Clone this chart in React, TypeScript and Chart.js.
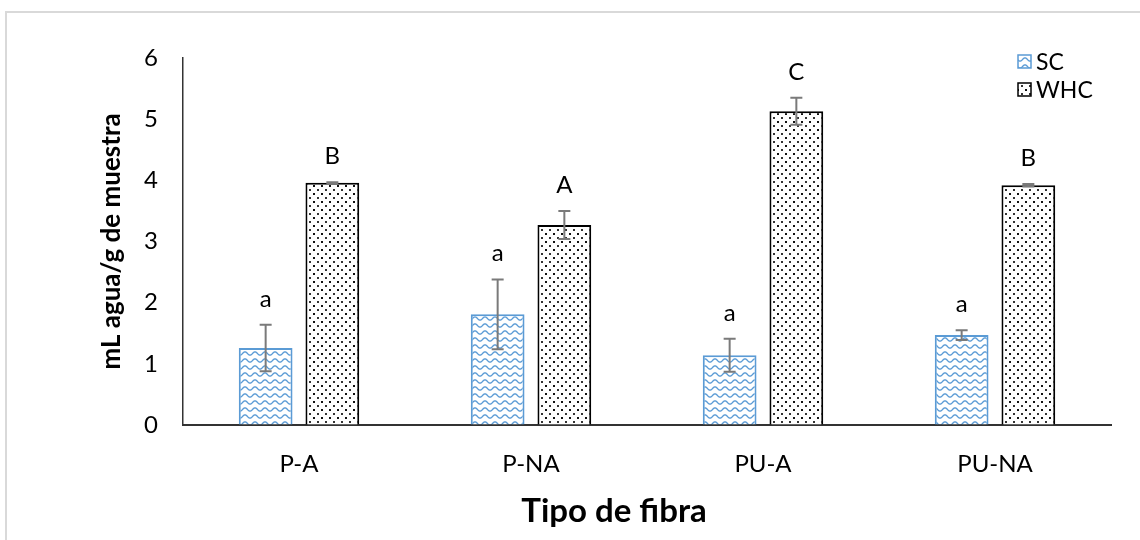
import React, { useEffect, useRef } from "react";
import { Chart, registerables } from "chart.js";

Chart.register(...registerables);

// Fibre types on the category axis
const categories = ["P-A", "P-NA", "PU-A", "PU-NA"];

// Swelling capacity (SC), mL water / g sample
const scValues = [1.26, 1.81, 1.14, 1.47];
const scErrors = [0.38, 0.57, 0.27, 0.08];
const scLetters = ["a", "a", "a", "a"];

// Water holding capacity (WHC), mL water / g sample
const whcValues = [3.96, 3.27, 5.13, 3.92];
const whcErrors = [0.01, 0.23, 0.22, 0.02];
const whcLetters = ["B", "A", "C", "B"];

const yTicks = [0, 1, 2, 3, 4, 5, 6];

const xTitle = "Tipo de fibra";
const yTitle = "mL agua/g de muestra";

const FONT = "Lato, 'Open Sans', sans-serif";
const BLUE = "#5b9bd5";

function makeWavePattern(ctx: CanvasRenderingContext2D): CanvasPattern | string {
  const w = 10;
  const h = 7;
  const c = document.createElement("canvas");
  c.width = w;
  c.height = h;
  const g = c.getContext("2d");
  if (!g) return "#ffffff";
  g.fillStyle = "#ffffff";
  g.fillRect(0, 0, w, h);
  g.strokeStyle = BLUE;
  g.lineWidth = 1.4;
  g.beginPath();
  for (let x = -1; x <= w + 1; x += 0.25) {
    const y = 3.5 + 1.6 * Math.cos((2 * Math.PI * x) / w);
    if (x === -1) g.moveTo(x, y);
    else g.lineTo(x, y);
  }
  g.stroke();
  return ctx.createPattern(c, "repeat") || "#ffffff";
}

function makeDotPattern(ctx: CanvasRenderingContext2D): CanvasPattern | string {
  const c = document.createElement("canvas");
  c.width = 8;
  c.height = 8;
  const g = c.getContext("2d");
  if (!g) return "#ffffff";
  g.fillStyle = "#ffffff";
  g.fillRect(0, 0, 8, 8);
  g.fillStyle = "#111111";
  g.fillRect(1, 1, 2, 2);
  g.fillStyle = "#333333";
  g.fillRect(5, 5, 2, 2);
  return ctx.createPattern(c, "repeat") || "#ffffff";
}

// Light grey frame around the whole chart
const framePlugin = {
  id: "frame",
  beforeDraw(chart: any) {
    const ctx = chart.ctx;
    ctx.save();
    ctx.fillStyle = "#ffffff";
    ctx.fillRect(0, 0, chart.width, chart.height);
    ctx.strokeStyle = "#d9d9d9";
    ctx.lineWidth = 2;
    ctx.strokeRect(6, 12, chart.width + 40, chart.height + 40);
    ctx.restore();
  },
};

// Error bars and significance letters above each bar
const errorPlugin = {
  id: "errorBars",
  afterDatasetsDraw(chart: any) {
    const ctx = chart.ctx;
    const yScale = chart.scales.y;
    const sets = [
      { values: scValues, errors: scErrors, letters: scLetters },
      { values: whcValues, errors: whcErrors, letters: whcLetters },
    ];
    ctx.save();
    sets.forEach((s, di) => {
      const meta = chart.getDatasetMeta(di);
      meta.data.forEach((bar: any, i: number) => {
        const x = bar.x;
        const top = yScale.getPixelForValue(s.values[i] + s.errors[i]);
        const bot = yScale.getPixelForValue(s.values[i] - s.errors[i]);
        ctx.strokeStyle = "#7a7a7a";
        ctx.lineWidth = 2;
        ctx.beginPath();
        ctx.moveTo(x, top);
        ctx.lineTo(x, bot);
        ctx.moveTo(x - 6, top);
        ctx.lineTo(x + 6, top);
        ctx.moveTo(x - 6, bot);
        ctx.lineTo(x + 6, bot);
        ctx.stroke();

        ctx.fillStyle = "#000000";
        ctx.font = `24px ${FONT}`;
        ctx.textAlign = "center";
        ctx.textBaseline = "alphabetic";
        ctx.fillText(s.letters[i], x, top - 18);
      });
    });
    ctx.restore();
  },
};

// Legend in the upper right corner and the category-axis title
const legendPlugin = {
  id: "cornerLegend",
  afterDraw(chart: any) {
    const ctx = chart.ctx;
    const x0 = 1018;
    const rows = [62, 90];
    ctx.save();
    chart.data.datasets.forEach((ds: any, i: number) => {
      const cy = rows[i];
      ctx.fillStyle = ds.backgroundColor;
      ctx.fillRect(x0, cy - 7, 13, 13);
      ctx.strokeStyle = ds.borderColor;
      ctx.lineWidth = 1.5;
      ctx.strokeRect(x0, cy - 7, 13, 13);
      ctx.fillStyle = "#000000";
      ctx.font = `23px ${FONT}`;
      ctx.textAlign = "left";
      ctx.textBaseline = "middle";
      ctx.fillText(ds.label, x0 + 18, cy + 1);
    });

    ctx.font = `bold 33px ${FONT}`;
    ctx.textAlign = "center";
    ctx.textBaseline = "alphabetic";
    ctx.fillStyle = "#000000";
    ctx.fillText(xTitle, 614, 522);
    ctx.restore();
  },
};

export default function App() {
  const canvasRef = useRef<HTMLCanvasElement | null>(null);

  useEffect(() => {
    document.body.style.margin = "0";
    const canvas = canvasRef.current;
    if (!canvas) return;
    const ctx = canvas.getContext("2d");
    if (!ctx) return;

    const chart = new Chart(ctx, {
      type: "bar",
      data: {
        labels: categories,
        datasets: [
          {
            label: "SC",
            data: scValues,
            backgroundColor: makeWavePattern(ctx) as any,
            borderColor: BLUE,
            borderWidth: 2,
            categoryPercentage: 0.575,
            barPercentage: 0.806,
          },
          {
            label: "WHC",
            data: whcValues,
            backgroundColor: makeDotPattern(ctx) as any,
            borderColor: "#000000",
            borderWidth: 2,
            categoryPercentage: 0.575,
            barPercentage: 0.806,
          },
        ],
      },
      options: {
        responsive: false,
        animation: false,
        devicePixelRatio: 1,
        layout: { padding: { top: 58, right: 29, left: 0, bottom: 0 } },
        plugins: {
          legend: { display: false },
          tooltip: { enabled: false },
        },
        scales: {
          x: {
            grid: { color: "transparent", drawTicks: false },
            border: { display: true, color: "#333333", width: 2 },
            ticks: {
              color: "#000000",
              font: { family: FONT, size: 24 },
              padding: 25,
            },
            afterFit(scale: any) {
              scale.height = 115;
            },
          },
          y: {
            min: 0,
            max: 6,
            afterBuildTicks(scale: any) {
              scale.ticks = yTicks.map((v) => ({ value: v }));
            },
            grid: { color: "transparent", drawTicks: false },
            border: { display: true, color: "#333333", width: 1.5 },
            ticks: {
              color: "#000000",
              font: { family: FONT, size: 24 },
              padding: 25,
            },
            title: {
              display: true,
              text: yTitle,
              color: "#000000",
              font: { family: FONT, size: 26, weight: "bold" },
              padding: { top: 96, bottom: 0 },
            },
            afterFit(scale: any) {
              scale.width = 183;
            },
          },
        },
      },
      plugins: [framePlugin, errorPlugin, legendPlugin],
    });

    return () => chart.destroy();
  }, []);

  return (
    <canvas
      ref={canvasRef}
      width={1140}
      height={540}
      style={{ display: "block", width: 1140, height: 540 }}
    />
  );
}
